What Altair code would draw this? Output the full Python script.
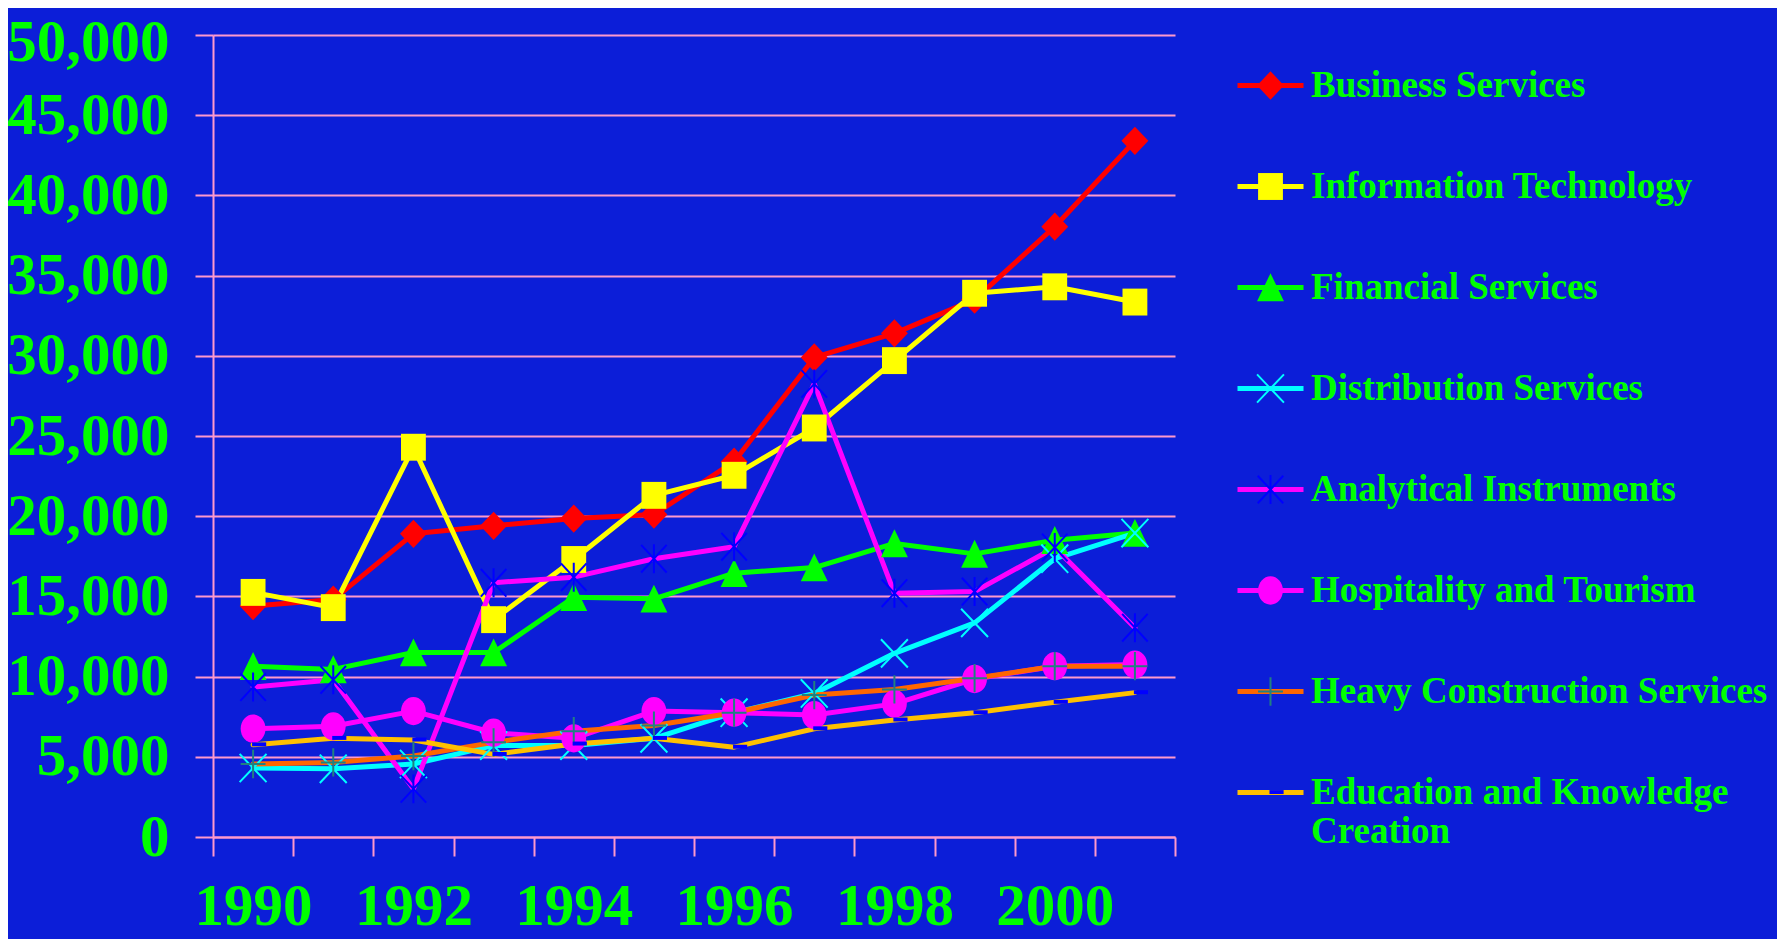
import altair as alt
import pandas as pd

years = list(range(1990, 2002))
series_names = [
    "Business Services",
    "Information Technology",
    "Financial Services",
    "Distribution Services",
    "Analytical Instruments",
    "Hospitality and Tourism",
    "Heavy Construction Services",
    "Education and Knowledge Creation",
]
business = [14400, 14800, 18900, 19400, 19850, 20100, 23400, 29900, 31400, 33500, 38050, 43400]
info_tech = [15250, 14300, 24300, 13550, 17300, 21300, 22550, 25500, 29700, 33900, 34300, 33350]
financial = [10650, 10450, 11500, 11500, 14950, 14850, 16450, 16800, 18300, 17650, 18500, 18950]
distribution = [4300, 4250, 4550, 5700, 5700, 6150, 7750, 8950, 11450, 13350, 17350, 18950]
analytical = [9350, 9800, 3000, 15850, 16200, 17350, 18100, 28250, 15200, 15300, 18050, 13050]
hospitality = [6750, 6900, 7850, 6500, 6150, 7850, 7750, 7600, 8300, 9850, 10650, 10750]
heavy = [4550, 4650, 5050, 5900, 6600, 6950, 7750, 8850, 9200, 9900, 10650, 10650]
education = [5750, 6150, 6050, 5150, 5800, 6150, 5600, 6750, 7300, 7750, 8400, 9000]
y_ticks = [0, 5000, 10000, 15000, 20000, 25000, 30000, 35000, 40000, 45000, 50000]

all_values = [business, info_tech, financial, distribution, analytical, hospitality, heavy, education]

line_colors = ["#FF0000", "#FFFF00", "#00FF00", "#00FFFF", "#FF00FF", "#FF00FF", "#FF6600", "#FFC000"]
marker_fills = ["#FF0000", "#FFFF00", "#00FF00", "transparent", "transparent", "#FF00FF", "transparent", "#0000FF"]
marker_strokes = ["transparent", "transparent", "transparent", "#00FFFF", "#0000FF", "transparent", "#208080", "transparent"]
marker_shapes = [
    "M0,-0.41L0.39,0L0,0.41L-0.39,0Z",
    "M-0.36,-0.39L0.36,-0.39L0.36,0.39L-0.36,0.39Z",
    "M0,-0.41L0.39,0.4L-0.39,0.4Z",
    "M-0.39,-0.41L0.39,0.41M-0.39,0.41L0.39,-0.41",
    "M-0.37,-0.4L0.37,0.4M-0.37,0.4L0.37,-0.4M0,-0.42L0,0.42",
    "M-0.36,0A0.36,0.41,0,1,1,0.36,0A0.36,0.41,0,1,1,-0.36,0Z",
    "M0,-0.41L0,0.41M-0.36,0L0.36,0",
    "M-0.03,-0.07L0.38,-0.07L0.38,0.045L-0.03,0.045Z",
]

rows = []
for name, vals in zip(series_names, all_values):
    for yr, v in zip(years, vals):
        rows.append({"year": yr, "series": name, "value": v})
df = pd.DataFrame(rows)

PINK = "#FF99CC"
GREEN = "#00FF00"
BG = "#0C1ED8"
FONT = "Liberation Serif"

label_expr = ("datum.label == 'Education and Knowledge Creation' ? "
              "['Education and Knowledge', 'Creation'] : datum.label")

common_legend = dict(
    title=None, orient="none", direction="vertical", padding=0,
    labelFont=FONT, labelFontWeight="bold", labelFontSize=37, labelColor=GREEN,
    labelLimit=1000, labelOffset=5, rowPadding=47,
    legendX=1022, legendY=15,
)

# line part of each legend entry (no text)
line_legend = alt.Legend(
    symbolType="stroke", symbolSize=4356, symbolStrokeWidth=5, symbolOpacity=1,
    labelExpr="''", **common_legend,
)
# marker part of each legend entry, with the labels
marker_legend = alt.Legend(
    symbolSize=4761, symbolStrokeWidth=2, symbolOpacity=1,
    labelExpr=label_expr, **common_legend,
)

x_enc = alt.X(
    "year:O",
    scale=alt.Scale(type="band", paddingInner=0, paddingOuter=0),
    axis=alt.Axis(
        title=None, tickBand="extent", labelAngle=0, labelOverlap=False,
        labelExpr="(datum.value % 2 == 0) ? datum.label : ''",
        labelFont=FONT, labelFontWeight="bold", labelFontSize=59, labelColor=GREEN,
        labelBaseline="alphabetic", labelPadding=68,
        tickSize=19, tickWidth=2, tickColor=PINK,
        domainColor=PINK, domainWidth=2, grid=False,
    ),
)
y_enc = alt.Y(
    "value:Q",
    scale=alt.Scale(domain=[0, 50000], nice=False),
    axis=alt.Axis(
        title=None, values=y_ticks, format=",.0f", labelOverlap=False,
        labelFont=FONT, labelFontWeight="bold", labelFontSize=59, labelColor=GREEN,
        labelPadding=26, tickSize=18, tickWidth=2, tickColor=PINK,
        labelOffset={"condition": {"test": "datum.value == 50000", "value": 7}, "value": 0},
        domainColor=PINK, domainWidth=2, grid=True, gridColor=PINK, gridWidth=2,
    ),
)

lines = alt.Chart(df).mark_line(strokeWidth=5, strokeJoin="round", strokeCap="round").encode(
    x=x_enc,
    y=y_enc,
    color=alt.Color("series:N", scale=alt.Scale(domain=series_names, range=line_colors), legend=line_legend),
)

points = alt.Chart(df).mark_point(size=4761, strokeWidth=2, opacity=1).encode(
    x=x_enc,
    y=y_enc,
    shape=alt.Shape("series:N", scale=alt.Scale(domain=series_names, range=marker_shapes), legend=marker_legend),
    fill=alt.Fill("series:N", scale=alt.Scale(domain=series_names, range=marker_fills), legend=marker_legend),
    stroke=alt.Stroke("series:N", scale=alt.Scale(domain=series_names, range=marker_strokes), legend=marker_legend),
)

chart = alt.layer(lines, points).resolve_legend(
    color="independent", shape="independent", fill="independent", stroke="independent"
).properties(
    width=962, height=802,
    autosize=alt.AutoSizeParams(type="none"),
    padding={"left": 205, "top": 27, "right": 602, "bottom": 102},
    background=BG,
).configure_view(strokeWidth=0)

chart.save("out.html", embed_options={"renderer": "svg", "actions": False})
